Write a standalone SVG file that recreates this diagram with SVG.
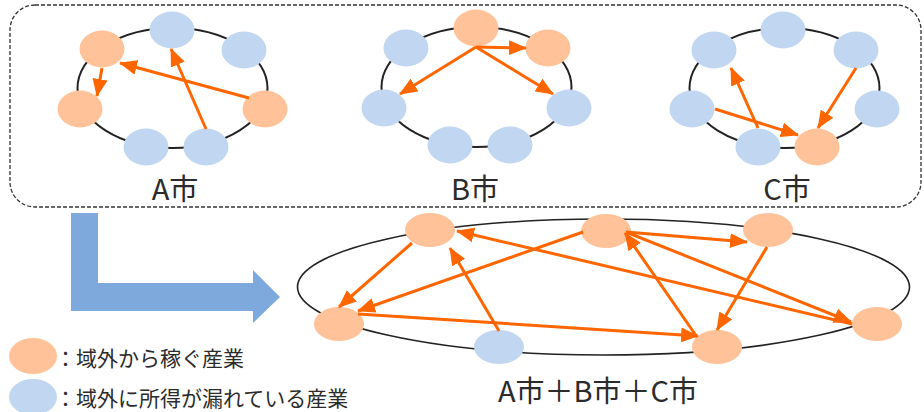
<svg xmlns="http://www.w3.org/2000/svg" width="924" height="412" viewBox="0 0 924 412">
<defs>
<marker id="ah" markerUnits="userSpaceOnUse" markerWidth="18" markerHeight="15" refX="17" refY="7.5" orient="auto">
<path d="M0,0 L18,7.5 L0,15 z" fill="#FF6600"/>
</marker>
<style>
.ring{fill:none;stroke:#222;stroke-width:2}
.big{fill:none;stroke:#222;stroke-width:1.6}
.o{fill:#FFC299}
.b{fill:#C1D6F0}
.e{stroke:#FF6600;stroke-width:3;fill:none;marker-end:url(#ah)}
.t{font-family:"Noto Sans CJK JP","Noto Sans",sans-serif;fill:#2b2b2b}
</style>
</defs>
<rect x="10" y="5" width="911" height="202" rx="25" fill="none" stroke="#333" stroke-width="1.3" stroke-dasharray="4 2"/>
<g id="rings">
<ellipse class="ring" cx="172.5" cy="88" rx="95" ry="60"/>
<ellipse class="ring" cx="476.5" cy="87" rx="95" ry="60"/>
<ellipse class="ring" cx="784.5" cy="88" rx="95" ry="60"/>
<ellipse class="big" cx="603.5" cy="287" rx="306" ry="68"/>
</g>
<g id="cityA">
<g id="a1"><ellipse class="o" cx="102" cy="49" rx="22.5" ry="18.5"/></g>
<g id="a2"><ellipse class="b" cx="172" cy="30" rx="22.5" ry="18.5"/></g>
<g id="a3"><ellipse class="b" cx="244" cy="50" rx="22.5" ry="18.5"/></g>
<g id="a4"><ellipse class="o" cx="80" cy="109" rx="22.5" ry="18.5"/></g>
<g id="a5"><ellipse class="o" cx="265" cy="109" rx="22.5" ry="18.5"/></g>
<g id="a6"><ellipse class="b" cx="146" cy="147" rx="22.5" ry="18.5"/></g>
<g id="a7"><ellipse class="b" cx="206" cy="147" rx="22.5" ry="18.5"/></g>
</g>
<g id="cityB">
<g id="b1"><ellipse class="o" cx="476" cy="28" rx="22.5" ry="18.5"/></g>
<g id="b2"><ellipse class="o" cx="548" cy="48" rx="22.5" ry="18.5"/></g>
<g id="b3"><ellipse class="b" cx="406" cy="48" rx="22.5" ry="18.5"/></g>
<g id="b4"><ellipse class="b" cx="384" cy="108" rx="22.5" ry="18.5"/></g>
<g id="b5"><ellipse class="b" cx="569" cy="108" rx="22.5" ry="18.5"/></g>
<g id="b6"><ellipse class="b" cx="450" cy="145" rx="22.5" ry="18.5"/></g>
<g id="b7"><ellipse class="b" cx="510" cy="145" rx="22.5" ry="18.5"/></g>
</g>
<g id="cityC">
<g id="c1"><ellipse class="b" cx="783" cy="30" rx="22.5" ry="18.5"/></g>
<g id="c2"><ellipse class="b" cx="714" cy="50" rx="22.5" ry="18.5"/></g>
<g id="c3"><ellipse class="b" cx="856" cy="50" rx="22.5" ry="18.5"/></g>
<g id="c4"><ellipse class="b" cx="692" cy="109" rx="22.5" ry="18.5"/></g>
<g id="c5"><ellipse class="b" cx="877" cy="109" rx="22.5" ry="18.5"/></g>
<g id="c6"><ellipse class="b" cx="758" cy="147" rx="22.5" ry="18.5"/></g>
<g id="c7"><ellipse class="o" cx="817" cy="147" rx="22.5" ry="18.5"/></g>
</g>
<g id="combined">
<g id="m1"><ellipse class="o" cx="430" cy="230" rx="25" ry="17"/></g>
<g id="m2"><ellipse class="o" cx="339" cy="324" rx="25" ry="17"/></g>
<g id="m3"><ellipse class="b" cx="499" cy="347" rx="25" ry="17"/></g>
<g id="m4"><ellipse class="o" cx="606" cy="231" rx="25" ry="17"/></g>
<g id="m5"><ellipse class="o" cx="768" cy="230" rx="25" ry="17"/></g>
<g id="m6"><ellipse class="o" cx="717" cy="347" rx="25" ry="17"/></g>
<g id="m7"><ellipse class="o" cx="877" cy="324" rx="25" ry="17"/></g>
</g>
<g id="connectors">
<line class="e" x1="102" y1="68" x2="97" y2="96"/>
<line class="e" x1="249" y1="98" x2="120" y2="63"/>
<line class="e" x1="206" y1="129" x2="171" y2="49"/>
<line class="e" x1="476" y1="47" x2="526" y2="48"/>
<line class="e" x1="476" y1="47" x2="400" y2="94"/>
<line class="e" x1="476" y1="47" x2="553" y2="94"/>
<line class="e" x1="758" y1="128" x2="731" y2="68"/>
<line class="e" x1="715" y1="109" x2="798" y2="135"/>
<line class="e" x1="856" y1="68" x2="818" y2="128"/>
<line class="e" x1="412" y1="243" x2="339" y2="307"/>
<line class="e" x1="583" y1="232" x2="358" y2="311"/>
<line class="e" x1="358" y1="314" x2="698" y2="336"/>
<line class="e" x1="499" y1="331" x2="450" y2="248"/>
<line class="e" x1="852" y1="324" x2="457" y2="231"/>
<line class="e" x1="626" y1="232" x2="747" y2="242"/>
<line class="e" x1="626" y1="232" x2="851" y2="322"/>
<line class="e" x1="767" y1="247" x2="717" y2="330"/>
<line class="e" x1="697" y1="337" x2="625" y2="233"/>
</g>
<g id="flow">
<polygon points="71,213 98,213 98,283 253,283 253,270 280,297 253,323 253,311 71,311" fill="#7EA9DC"/>
</g>
<g id="labels">
<text class="t" x="175" y="200" font-size="29" text-anchor="middle">A市</text>
<text class="t" x="475" y="200" font-size="29" text-anchor="middle">B市</text>
<text class="t" x="787" y="200" font-size="29" text-anchor="middle">C市</text>
<text class="t" x="598" y="402" font-size="29" text-anchor="middle">A市＋B市＋C市</text>
</g>
<g id="legend">
<ellipse class="o" cx="33" cy="356" rx="24" ry="18"/>
<ellipse class="b" cx="33" cy="397" rx="24" ry="18"/>
<text class="t" x="55" y="366" font-size="21">：域外から稼ぐ産業</text>
<text class="t" x="55" y="406" font-size="21">：域外に所得が漏れている産業</text>
</g>
</svg>
